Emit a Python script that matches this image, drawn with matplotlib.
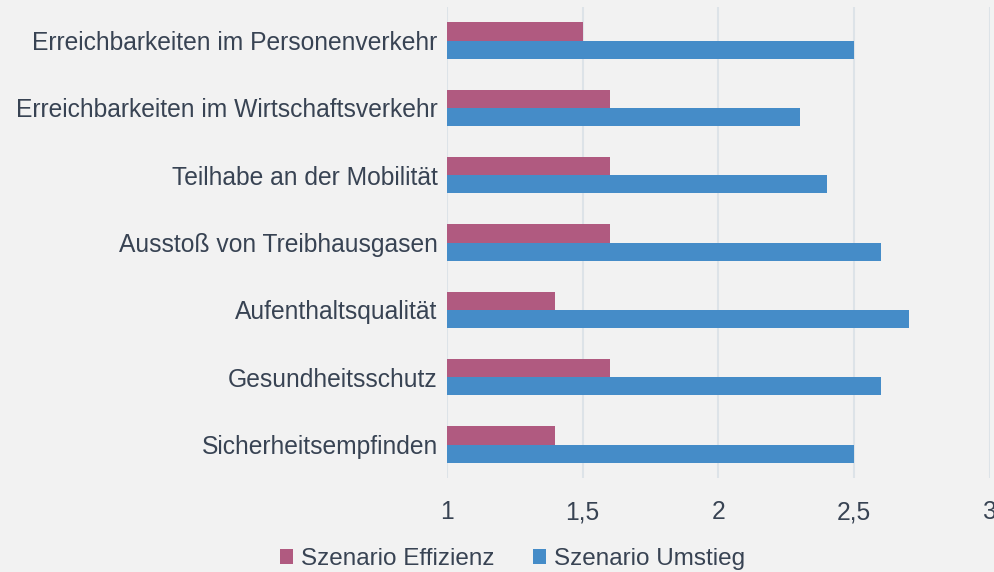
import numpy as np
import matplotlib.pyplot as plt
from matplotlib.ticker import FuncFormatter

categories = [
    "Erreichbarkeiten im Personenverkehr",
    "Erreichbarkeiten im Wirtschaftsverkehr",
    "Teilhabe an der Mobilität",
    "Ausstoß von Treibhausgasen",
    "Aufenthaltsqualität",
    "Gesundheitsschutz",
    "Sicherheitsempfinden",
]
effizienz = [1.5, 1.6, 1.6, 1.6, 1.4, 1.6, 1.4]
umstieg = [2.5, 2.3, 2.4, 2.6, 2.7, 2.6, 2.5]
series_names = ["Szenario Effizienz", "Szenario Umstieg"]
x_ticks = [1, 1.5, 2, 2.5, 3]

bg = "#f2f2f2"
text_color = "#384353"
grid_color = "#dde3e8"
col_eff = "#b05a80"
col_umst = "#458cc8"

plt.rcParams["font.family"] = ["Liberation Sans", "DejaVu Sans"]

fig = plt.figure(figsize=(9.95, 5.72), dpi=100, facecolor=bg)
ax = fig.add_axes([0.449, 0.164, 0.546, 0.824])
ax.set_facecolor(bg)

y = np.arange(len(categories))
h = 0.27
ax.barh(y - h / 2, np.array(effizienz) - 1, left=1, height=h, color=col_eff,
        label=series_names[0], zorder=3)
ax.barh(y + h / 2, np.array(umstieg) - 1, left=1, height=h, color=col_umst,
        label=series_names[1], zorder=3)

ax.set_ylim(len(categories) - 0.5, -0.5)
ax.set_xlim(1, 3)
ax.set_yticks(y)
ax.set_yticklabels(categories)
ax.set_xticks(x_ticks)
ax.xaxis.set_major_formatter(FuncFormatter(lambda v, p: f"{v:g}".replace(".", ",")))

ax.grid(axis="x", color=grid_color, linewidth=1.5, zorder=0)
for s in ax.spines.values():
    s.set_visible(False)
ax.tick_params(axis="both", length=0, labelsize=17.7, colors=text_color)
ax.tick_params(axis="y", pad=6.5)
ax.tick_params(axis="x", pad=16)

leg = fig.legend(loc="lower center", bbox_to_anchor=(0.515, -0.035), ncol=2,
                 frameon=False, fontsize=17.5, handlelength=0.55, handleheight=0.55,
                 handletextpad=0.3, columnspacing=1.6)
for t in leg.get_texts():
    t.set_color(text_color)

fig.savefig("out.png", dpi=100, facecolor=bg)
